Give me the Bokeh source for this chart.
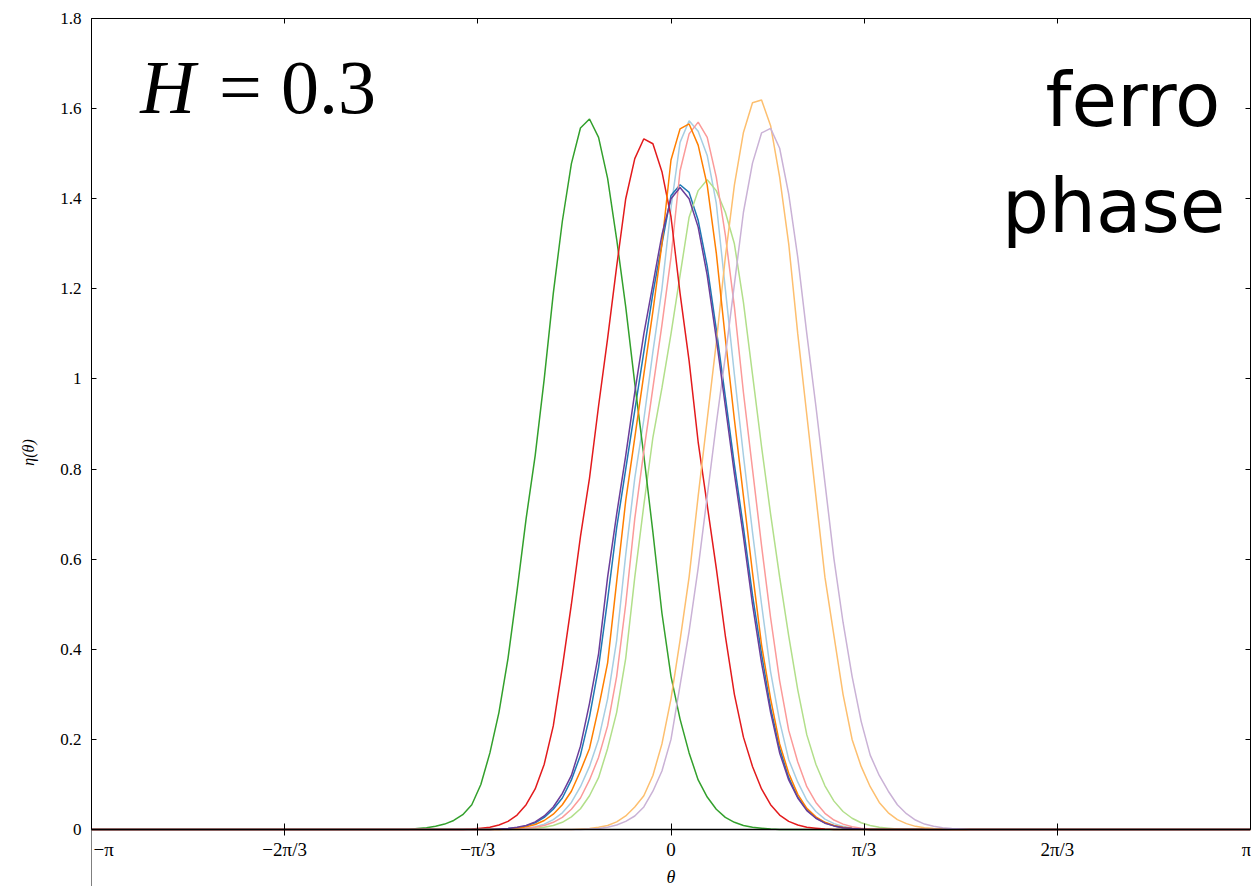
import numpy as np
from bokeh.plotting import figure
from bokeh.models import Range1d, FixedTicker, LinearAxis, Label, CustomLabelingPolicy
from bokeh.embed import file_html
from bokeh.resources import INLINE

# ---------------- data ----------------
# sample grid of theta (129 points over [-pi, pi]); curves are listed on the
# central window k = -32..32 of the grid, zero elsewhere
N_GRID = 129
WINDOW_PAD = 32
theta = np.linspace(-np.pi, np.pi, N_GRID)

def Z(n):
    return [0.0] * n

eta_light_blue = Z(15) + [0.001, 0.003, 0.006, 0.012, 0.022, 0.037, 0.06, 0.095, 0.14, 0.20,
                          0.29, 0.42, 0.61, 0.78, 0.91, 1.06, 1.20, 1.38, 1.525, 1.573,
                          1.55, 1.496, 1.39, 1.20, 1.01, 0.83, 0.66, 0.50, 0.35, 0.24,
                          0.155, 0.105, 0.065, 0.04, 0.023, 0.013, 0.007, 0.003, 0.001] + Z(11)
eta_blue = Z(13) + [0.001, 0.002, 0.004, 0.008, 0.015, 0.027, 0.045, 0.07, 0.11, 0.165,
                    0.25, 0.36, 0.51, 0.67, 0.80, 0.93, 1.06, 1.19, 1.30, 1.407,
                    1.431, 1.414, 1.352, 1.25, 1.11, 0.96, 0.81, 0.67, 0.52, 0.39,
                    0.27, 0.18, 0.115, 0.072, 0.044, 0.026, 0.015, 0.008, 0.004, 0.002, 0.001] + Z(11)
eta_light_green = Z(16) + [0.001, 0.002, 0.005, 0.009, 0.016, 0.028, 0.046, 0.075, 0.115, 0.18,
                           0.26, 0.38, 0.56, 0.72, 0.87, 0.98, 1.10, 1.23, 1.359, 1.418,
                           1.442, 1.418, 1.37, 1.30, 1.17, 1.01, 0.85, 0.70, 0.56, 0.43,
                           0.31, 0.21, 0.145, 0.097, 0.063, 0.04, 0.025, 0.015, 0.009, 0.005, 0.003, 0.001] + Z(7)
eta_green = Z(4) + [0.002, 0.004, 0.007, 0.012, 0.020, 0.033, 0.055, 0.10, 0.17, 0.26,
                    0.38, 0.53, 0.69, 0.83, 1.00, 1.19, 1.35, 1.478, 1.557, 1.577,
                    1.536, 1.445, 1.31, 1.16, 0.99, 0.83, 0.66, 0.48, 0.34, 0.245,
                    0.17, 0.11, 0.072, 0.045, 0.027, 0.016, 0.009, 0.005, 0.003, 0.001] + Z(21)
eta_pink = Z(15) + [0.001, 0.002, 0.005, 0.009, 0.016, 0.027, 0.045, 0.07, 0.11, 0.16,
                    0.23, 0.34, 0.50, 0.69, 0.84, 0.98, 1.12, 1.27, 1.462, 1.544,
                    1.570, 1.536, 1.448, 1.32, 1.16, 0.97, 0.80, 0.63, 0.47, 0.33,
                    0.22, 0.15, 0.095, 0.06, 0.036, 0.021, 0.012, 0.006, 0.003, 0.001] + Z(10)
eta_red = Z(10) + [0.001, 0.003, 0.005, 0.010, 0.018, 0.032, 0.055, 0.09, 0.145, 0.23,
                   0.36, 0.50, 0.65, 0.78, 0.94, 1.09, 1.25, 1.40, 1.489, 1.533,
                   1.522, 1.46, 1.36, 1.19, 1.04, 0.86, 0.72, 0.58, 0.43, 0.30,
                   0.205, 0.14, 0.09, 0.055, 0.032, 0.018, 0.010, 0.005, 0.003, 0.001] + Z(15)
eta_light_orange = Z(22) + [0.001, 0.002, 0.005, 0.009, 0.017, 0.03, 0.05, 0.075, 0.12, 0.19,
                            0.29, 0.42, 0.56, 0.74, 0.91, 1.08, 1.27, 1.43, 1.547, 1.613,
                            1.619, 1.562, 1.448, 1.30, 1.10, 0.92, 0.74, 0.56, 0.43, 0.30,
                            0.20, 0.14, 0.095, 0.06, 0.037, 0.022, 0.013, 0.007, 0.004, 0.002, 0.001] + Z(2)
eta_orange = Z(14) + [0.001, 0.003, 0.006, 0.011, 0.02, 0.034, 0.055, 0.085, 0.13, 0.18,
                      0.27, 0.37, 0.55, 0.73, 0.87, 1.01, 1.15, 1.30, 1.486, 1.555,
                      1.566, 1.519, 1.43, 1.28, 1.09, 0.91, 0.74, 0.57, 0.41, 0.29,
                      0.19, 0.125, 0.078, 0.047, 0.028, 0.016, 0.009, 0.005, 0.002, 0.001] + Z(11)
eta_light_purple = Z(23) + [0.001, 0.002, 0.005, 0.01, 0.018, 0.03, 0.05, 0.085, 0.13, 0.20,
                            0.32, 0.44, 0.58, 0.74, 0.90, 1.05, 1.21, 1.37, 1.479, 1.546,
                            1.556, 1.512, 1.41, 1.27, 1.10, 0.94, 0.77, 0.60, 0.46, 0.34,
                            0.24, 0.165, 0.12, 0.085, 0.055, 0.035, 0.021, 0.012, 0.007, 0.004, 0.002, 0.001]
eta_purple = Z(13) + [0.001, 0.002, 0.005, 0.009, 0.017, 0.03, 0.05, 0.08, 0.12, 0.185,
                      0.28, 0.39, 0.56, 0.70, 0.83, 0.97, 1.10, 1.21, 1.32, 1.40,
                      1.425, 1.40, 1.337, 1.23, 1.09, 0.94, 0.79, 0.65, 0.50, 0.37,
                      0.26, 0.17, 0.11, 0.07, 0.042, 0.025, 0.014, 0.008, 0.004, 0.002, 0.001] + Z(11)

series = [eta_light_blue, eta_blue, eta_light_green, eta_green, eta_pink,
          eta_red, eta_light_orange, eta_orange, eta_light_purple, eta_purple]
colors = ["#a6cee3", "#1f78b4", "#b2df8a", "#33a02c", "#fb9a99",
          "#e31a1c", "#fdbf6f", "#ff7f00", "#cab2d6", "#6a3d9a"]

x_ticks = [k * np.pi / 3 for k in range(-3, 4)]
x_tick_labels = ["\u2212\u03c0", "\u22122\u03c0/3", "\u2212\u03c0/3", "0", "\u03c0/3", "2\u03c0/3", "\u03c0"]
y_ticks = [0, 0.2, 0.4, 0.6, 0.8, 1, 1.2, 1.4, 1.6, 1.8]
y_tick_labels = ["0", "0.2", "0.4", "0.6", "0.8", "1", "1.2", "1.4", "1.6", "1.8"]

# ---------------- figure ----------------
SERIF = "Liberation Serif"
Y_TOP = 1.8
Y_VIEW_BOTTOM = -57 / 450.6   # frame continues below the axis (next subplot's spine)

p = figure(width=1254, height=886, output_backend="svg", toolbar_location=None,
           x_range=Range1d(-np.pi, np.pi), y_range=Range1d(Y_VIEW_BOTTOM, Y_TOP),
           min_border_left=91, min_border_right=4, min_border_top=18, min_border_bottom=0,
           x_axis_label="\u03b8", y_axis_label="\u03b7(\u03b8)")
p.xgrid.visible = False
p.ygrid.visible = False
p.outline_line_color = None
p.background_fill_color = "white"
p.border_fill_color = "white"

for vals, c in zip(series, colors):
    full = Z(WINDOW_PAD) + vals + Z(WINDOW_PAD)
    p.line(theta, full, line_color=c, line_width=1.5)

no_labels = CustomLabelingPolicy(code="return new Set()")

# bottom axis, drawn at eta = 0 (inner ticks; the end ticks sit on the spines)
inner_x_ticks = x_ticks[1:-1]
xa = p.xaxis[0]
xa.fixed_location = 0
xa.ticker = FixedTicker(ticks=inner_x_ticks)
xa.major_label_overrides = dict(zip(inner_x_ticks, x_tick_labels[1:-1]))
xa.minor_tick_line_color = None
xa.major_tick_in = 6
xa.major_tick_out = 6
xa.major_tick_line_color = "black"
xa.major_label_standoff = 3
xa.major_label_text_font = SERIF
xa.major_label_text_font_size = "19px"
xa.major_label_text_color = "black"
xa.axis_label_text_font = SERIF
xa.axis_label_text_font_style = "italic"
xa.axis_label_text_font_size = "18px"
xa.axis_label_text_color = "black"
xa.axis_label_standoff = 4
xa.axis_line_color = "black"
xa.axis_line_width = 1.3

# end tick labels, written next to the spines
for xv, txt, align, dx in [(x_ticks[0], x_tick_labels[0], "left", 2),
                           (x_ticks[-1], x_tick_labels[-1], "center", -4)]:
    p.add_layout(Label(x=xv, y=-0.02, x_offset=dx, text=txt, text_font=SERIF,
                       text_font_size="19px", text_color="black",
                       text_align=align, text_baseline="top"))

# left axis (spine of this panel)
ya = p.yaxis[0]
ya.bounds = (0, Y_TOP)
ya.ticker = FixedTicker(ticks=y_ticks)
ya.major_label_overrides = dict(zip(y_ticks, y_tick_labels))
ya.minor_tick_line_color = None
ya.major_tick_in = 5
ya.major_tick_out = 0
ya.major_tick_line_color = "black"
ya.axis_line_color = "black"
ya.major_label_standoff = 10
ya.major_label_text_font = SERIF
ya.major_label_text_font_size = "17px"
ya.major_label_text_color = "black"
ya.axis_label_text_font = SERIF
ya.axis_label_text_font_style = "italic"
ya.axis_label_text_font_size = "16px"
ya.axis_label_text_color = "black"
ya.axis_label_standoff = 20

# left spine of the next subplot, continuing below
lower_spine = LinearAxis(fixed_location=-np.pi, bounds=(Y_VIEW_BOTTOM, 0),
                         ticker=FixedTicker(ticks=[]), major_label_policy=no_labels,
                         major_tick_in=0, major_tick_out=0, minor_tick_line_color=None,
                         major_label_text_font_size="1px", axis_line_color="black")
p.add_layout(lower_spine, "left")

# top and right axes (ticks only, no labels)
top = LinearAxis(ticker=FixedTicker(ticks=x_ticks), major_tick_in=5, major_tick_out=0,
                 minor_tick_line_color=None, major_label_text_font_size="1px",
                 major_label_standoff=0, major_label_policy=no_labels,
                 axis_line_color="black", major_tick_line_color="black")
right = LinearAxis(ticker=FixedTicker(ticks=y_ticks), major_tick_in=5, major_tick_out=0,
                   minor_tick_line_color=None, major_label_text_font_size="1px",
                   major_label_standoff=0, major_label_policy=no_labels,
                   bounds=(0, Y_TOP),
                   axis_line_color="black", major_tick_line_color="black")
p.add_layout(top, "above")
p.add_layout(right, "right")

# annotations
p.add_layout(Label(x=-2.877, y=1.649, text="H", text_font=SERIF, text_font_style="italic",
                   text_font_size="76px", text_color="black",
                   text_baseline="alphabetic", text_align="left"))
p.add_layout(Label(x=-2.45, y=1.649, text="= 0.3", text_font=SERIF, text_color="black",
                   text_font_size="76px", text_baseline="alphabetic", text_align="left"))
p.add_layout(Label(x=2.978, y=1.620, text="ferro", text_font="DejaVu Sans", text_color="black",
                   text_font_size="74px", text_baseline="alphabetic", text_align="right"))
p.add_layout(Label(x=3.005, y=1.383, text="phase", text_font="DejaVu Sans", text_color="black",
                   text_font_size="74px", text_baseline="alphabetic", text_align="right"))

open("out.html", "w").write(file_html(p, INLINE))
